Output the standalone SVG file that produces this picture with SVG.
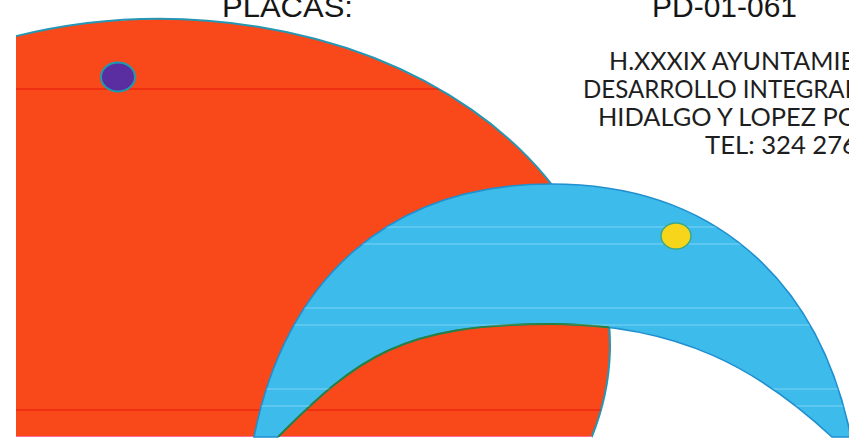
<svg xmlns="http://www.w3.org/2000/svg" width="849" height="444" viewBox="0 0 849 444">
  <style>
    .hdr { font-family: "Liberation Sans", Arial, sans-serif; font-size: 30px; fill: #161616; }
    .org { font-family: Lato, "Open Sans", "Liberation Sans", sans-serif; font-size: 25px; fill: #1e1e1e; }
    .scanW { stroke: #ffffff; stroke-opacity: 0.35; stroke-width: 1.2; }
    .scanR { stroke: #e8200c; stroke-opacity: 0.6; stroke-width: 2; }
  </style>
  <defs>
    <path id="orangePath" d="M16,437 L16,36.1 A450,326 0 0 1 591.7,437 Z"/>
    <path id="archPath" d="M254,437 C286,277 391,184 551,184 C711,184 818,277 851,437 L832,437 C760,370 680,324 551,324 C401,324 358,357 278,437 Z"/>
    <clipPath id="clipOrange"><use href="#orangePath"/></clipPath>
    <clipPath id="clipArch"><use href="#archPath"/></clipPath>
  </defs>
  <rect width="849" height="444" fill="#ffffff"/>

  <g id="orange-shape">
    <use href="#orangePath" fill="#f9481a"/>
    <path d="M16,36.1 A450,326 0 0 1 591.7,437" fill="none" stroke="#2596b4" stroke-width="2"/>
    <g clip-path="url(#clipOrange)">
      <line class="scanR" x1="0" y1="89" x2="620" y2="89" stroke-opacity="0.25"/>
      <line class="scanR" x1="0" y1="410" x2="620" y2="410"/>
      <line x1="0" y1="436.5" x2="620" y2="436.5" stroke="#ff6f9a" stroke-width="1.2"/>
    </g>
  </g>

  <g id="purple-dot">
    <ellipse cx="118" cy="77" rx="17" ry="14.5" fill="#5a2ea0" stroke="#1e9bb0" stroke-width="2"/>
  </g>

  <g id="blue-arch">
    <use href="#archPath" fill="#3dbcec" stroke="#1f8fcf" stroke-width="1.6"/>
    <g clip-path="url(#clipOrange)">
      <path d="M278,437 C358,357 401,324 551,324 C680,324 760,370 832,437" fill="none" stroke="#27803e" stroke-width="2"/>
    </g>
    <g clip-path="url(#clipArch)">
      <line class="scanW" x1="240" y1="227" x2="849" y2="227"/>
      <line class="scanW" x1="240" y1="244" x2="849" y2="244"/>
      <line class="scanW" x1="240" y1="308" x2="849" y2="308"/>
      <line class="scanW" x1="240" y1="325" x2="849" y2="325"/>
      <line class="scanW" x1="240" y1="389" x2="849" y2="389"/>
      <line class="scanW" x1="240" y1="406" x2="849" y2="406"/>
    </g>
  </g>

  <g id="yellow-dot">
    <ellipse cx="676" cy="236" rx="15" ry="13" fill="#f7d51a" stroke="#3aa88a" stroke-width="1.5"/>
  </g>

  <g id="header-text">
    <text class="hdr" x="222" y="16.5" textLength="131" lengthAdjust="spacingAndGlyphs">PLACAS:</text>
    <text class="hdr" x="652" y="16.5" textLength="145" lengthAdjust="spacingAndGlyphs">PD-01-061</text>
  </g>

  <g id="address-text">
    <text class="org" x="609" y="70" textLength="246" lengthAdjust="spacingAndGlyphs">H.XXXIX AYUNTAMIE</text>
    <text class="org" x="583" y="98" textLength="274" lengthAdjust="spacingAndGlyphs">DESARROLLO INTEGRAL</text>
    <text class="org" x="598" y="126" textLength="260" lengthAdjust="spacingAndGlyphs">HIDALGO Y LOPEZ PO</text>
    <text class="org" x="705" y="154" textLength="152" lengthAdjust="spacingAndGlyphs">TEL: 324 276</text>
  </g>
</svg>
